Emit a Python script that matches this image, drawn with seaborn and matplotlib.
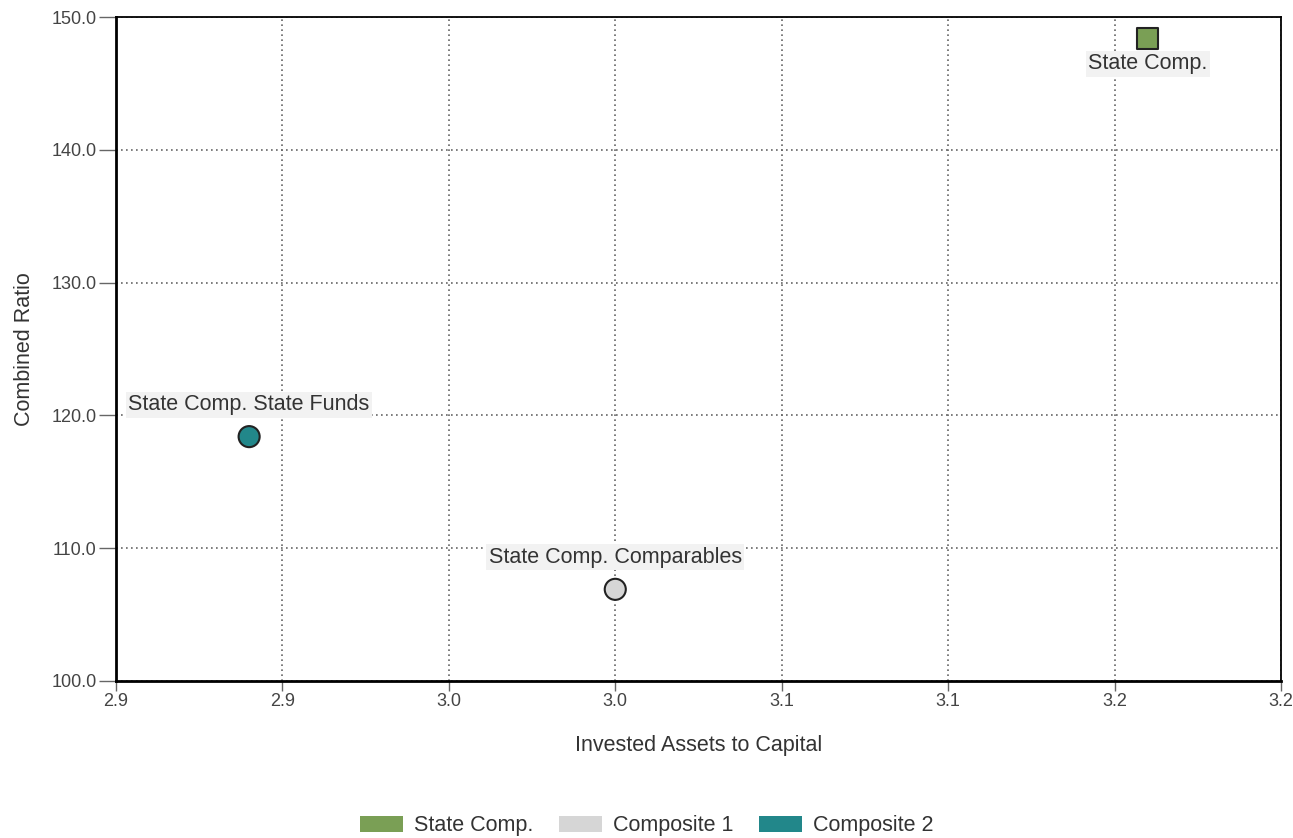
import numpy as np
import pandas as pd
import matplotlib.pyplot as plt
import matplotlib.ticker as mticker
from matplotlib.patches import Patch
import seaborn as sns

# data
names = ["State Comp.", "State Comp. Comparables", "State Comp. State Funds"]
groups = ["State Comp.", "Composite 1", "Composite 2"]
assets_to_capital = [3.16, 3.00, 2.89]
combined_ratio = [148.4, 106.9, 118.4]
colors = ["#7a9f55", "#d6d6d6", "#22878a"]
x_ticks = [2.85, 2.90, 2.95, 3.00, 3.05, 3.10, 3.15, 3.20]
x_tick_labels = ["2.9", "2.9", "3.0", "3.0", "3.1", "3.1", "3.2", "3.2"]
y_ticks = [100, 110, 120, 130, 140, 150]

df = pd.DataFrame({"name": names, "group": groups,
                   "x": assets_to_capital, "y": combined_ratio})

sns.set_style("white")
plt.rcParams["font.family"] = ["Liberation Sans", "DejaVu Sans"]

fig = plt.figure(figsize=(12.93, 8.38), dpi=100)
ax = fig.add_axes([0.0897, 0.1874, 0.901, 0.7923])

sns.scatterplot(data=df, x="x", y="y", hue="group", style="group",
                palette=dict(zip(groups, colors)),
                markers={"State Comp.": "s", "Composite 1": "o", "Composite 2": "o"},
                s=230, edgecolor="#222222", linewidth=1.5, legend=False, ax=ax, zorder=5)

# label offsets (points): square label below, circles above
offsets = [(0, -18.5), (0, 23), (0, 23)]
for n, xv, yv, off in zip(names, assets_to_capital, combined_ratio, offsets):
    ax.annotate(n, (xv, yv), xytext=off, textcoords="offset points",
                ha="center", va="center", fontsize=15.5, color="#333333",
                bbox=dict(boxstyle="square,pad=0.12", fc="#f2f2f2", ec="none"),
                zorder=4)

ax.set_xlim(2.85, 3.20)
ax.set_ylim(100, 150)
ax.set_xticks(x_ticks)
ax.xaxis.set_major_formatter(mticker.FixedFormatter(x_tick_labels))
ax.set_yticks(y_ticks)
ax.yaxis.set_major_formatter(mticker.FormatStrFormatter("%.1f"))
ax.grid(True, linestyle=(0, (1, 2)), color="#666666", linewidth=1.2)
ax.tick_params(axis="both", bottom=True, left=True, width=1, color="#666666",
               labelsize=13, labelcolor="#444444", direction="out")
ax.tick_params(axis="x", length=7.5, pad=1)
ax.tick_params(axis="y", length=12, pad=2)
for sp in ax.spines.values():
    sp.set_color("black")
    sp.set_linewidth(1.3)
ax.spines["left"].set_linewidth(2)
ax.spines["bottom"].set_linewidth(2)

ax.set_xlabel("Invested Assets to Capital", fontsize=15.5, color="#333333", labelpad=18)
ax.set_ylabel("Combined Ratio", fontsize=15.5, color="#333333", labelpad=12)

handles = [Patch(facecolor=c, edgecolor="none", label=g) for g, c in zip(groups, colors)]
fig.legend(handles=handles, loc="lower center", bbox_to_anchor=(0.5, -0.021), ncol=3,
           frameon=False, fontsize=15.5, handlelength=2.0, handleheight=0.8,
           handletextpad=0.5, columnspacing=1.2, labelcolor="#333333")

fig.savefig("out.png", dpi=100)
